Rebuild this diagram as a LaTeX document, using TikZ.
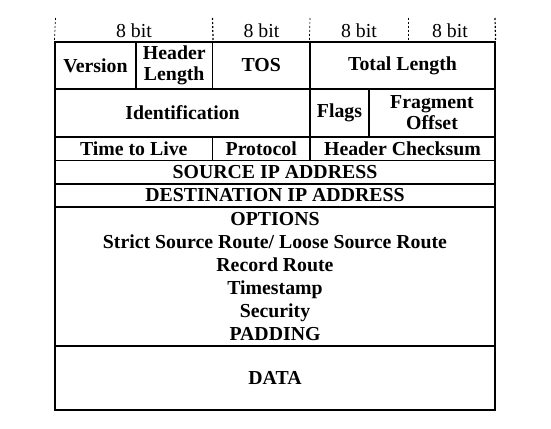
\documentclass[tikz,border=0pt]{standalone}
\usepackage{fontspec}
\setmainfont{Liberation Serif}
\begin{document}
\begin{tikzpicture}[x=1pt,y=-1pt,
  cellbox/.style={draw,line width=1.2pt,inner sep=0pt,align=center,
    font=\fontsize{19.8}{21}\selectfont\bfseries},
  optbox/.style={cellbox,font=\fontsize{19.8}{23}\selectfont\bfseries},
  bitlabel/.style={inner sep=0pt,font=\fontsize{19.8}{21}\selectfont},
  sep/.style={line width=1.2pt,dash pattern=on 2pt off 2pt}]
\useasboundingbox (0,0) rectangle (551,428);
\newcommand{\cellat}[7][]{%
  \node[cellbox,#1,minimum width={#5-#3},minimum height={#6-#4}] (#2) at ({(#3+#5)/2},{(#4+#6)/2}) {#7};}
% row 1
\cellat{ver}{55}{42}{136}{89}{Version}
\cellat{hl}{136}{42}{212.5}{89}{Header\\Length}
\cellat{tos}{212.5}{42}{310}{89}{TOS}
\cellat{tl}{310}{42}{495}{89}{Total Length}
% row 2
\cellat{id}{55}{89}{310}{137}{Identification}
\cellat{fl}{310}{89}{369}{137}{Flags}
\cellat{fo}{369}{89}{495}{137}{Fragment\\Offset}
% row 3
\cellat{ttl}{55}{137}{212.5}{160.5}{Time to Live}
\cellat{pr}{212.5}{137}{310}{160.5}{Protocol}
\cellat{hc}{310}{137}{495}{160.5}{Header Checksum}
% address rows
\cellat{src}{55}{160.5}{495}{184}{SOURCE IP ADDRESS}
\cellat{dst}{55}{184}{495}{207}{DESTINATION IP ADDRESS}
\cellat[optbox]{opt}{55}{207}{495}{346}{OPTIONS\\Strict Source Route/ Loose Source Route\\Record Route\\Timestamp\\Security\\PADDING}
\cellat{data}{55}{346}{495}{410}{DATA}
% bit header
\coordinate (s0) at (55.5,18);
\coordinate (s1) at (212.5,18);
\coordinate (s2) at (310,18);
\coordinate (s3) at (408,18);
\coordinate (s4) at (495,18);
\draw[sep,line width=0.7pt] (s0) -- (ver.north west);
\draw[sep] (s1) -- (hl.north east);
\draw[sep,line width=0.7pt] (s2) -- (tl.north west);
\draw[sep,line width=0.7pt] (s3) -- (s3 |- tl.north);
\draw[sep] (s4) -- (tl.north east);
\node[bitlabel] (b1) at (134,30.5) {8 bit};
\node[bitlabel] (b2) at (261.5,30.5) {8 bit};
\node[bitlabel] (b3) at (359,30.5) {8 bit};
\node[bitlabel] (b4) at (450,30.5) {8 bit};
\end{tikzpicture}
\end{document}
